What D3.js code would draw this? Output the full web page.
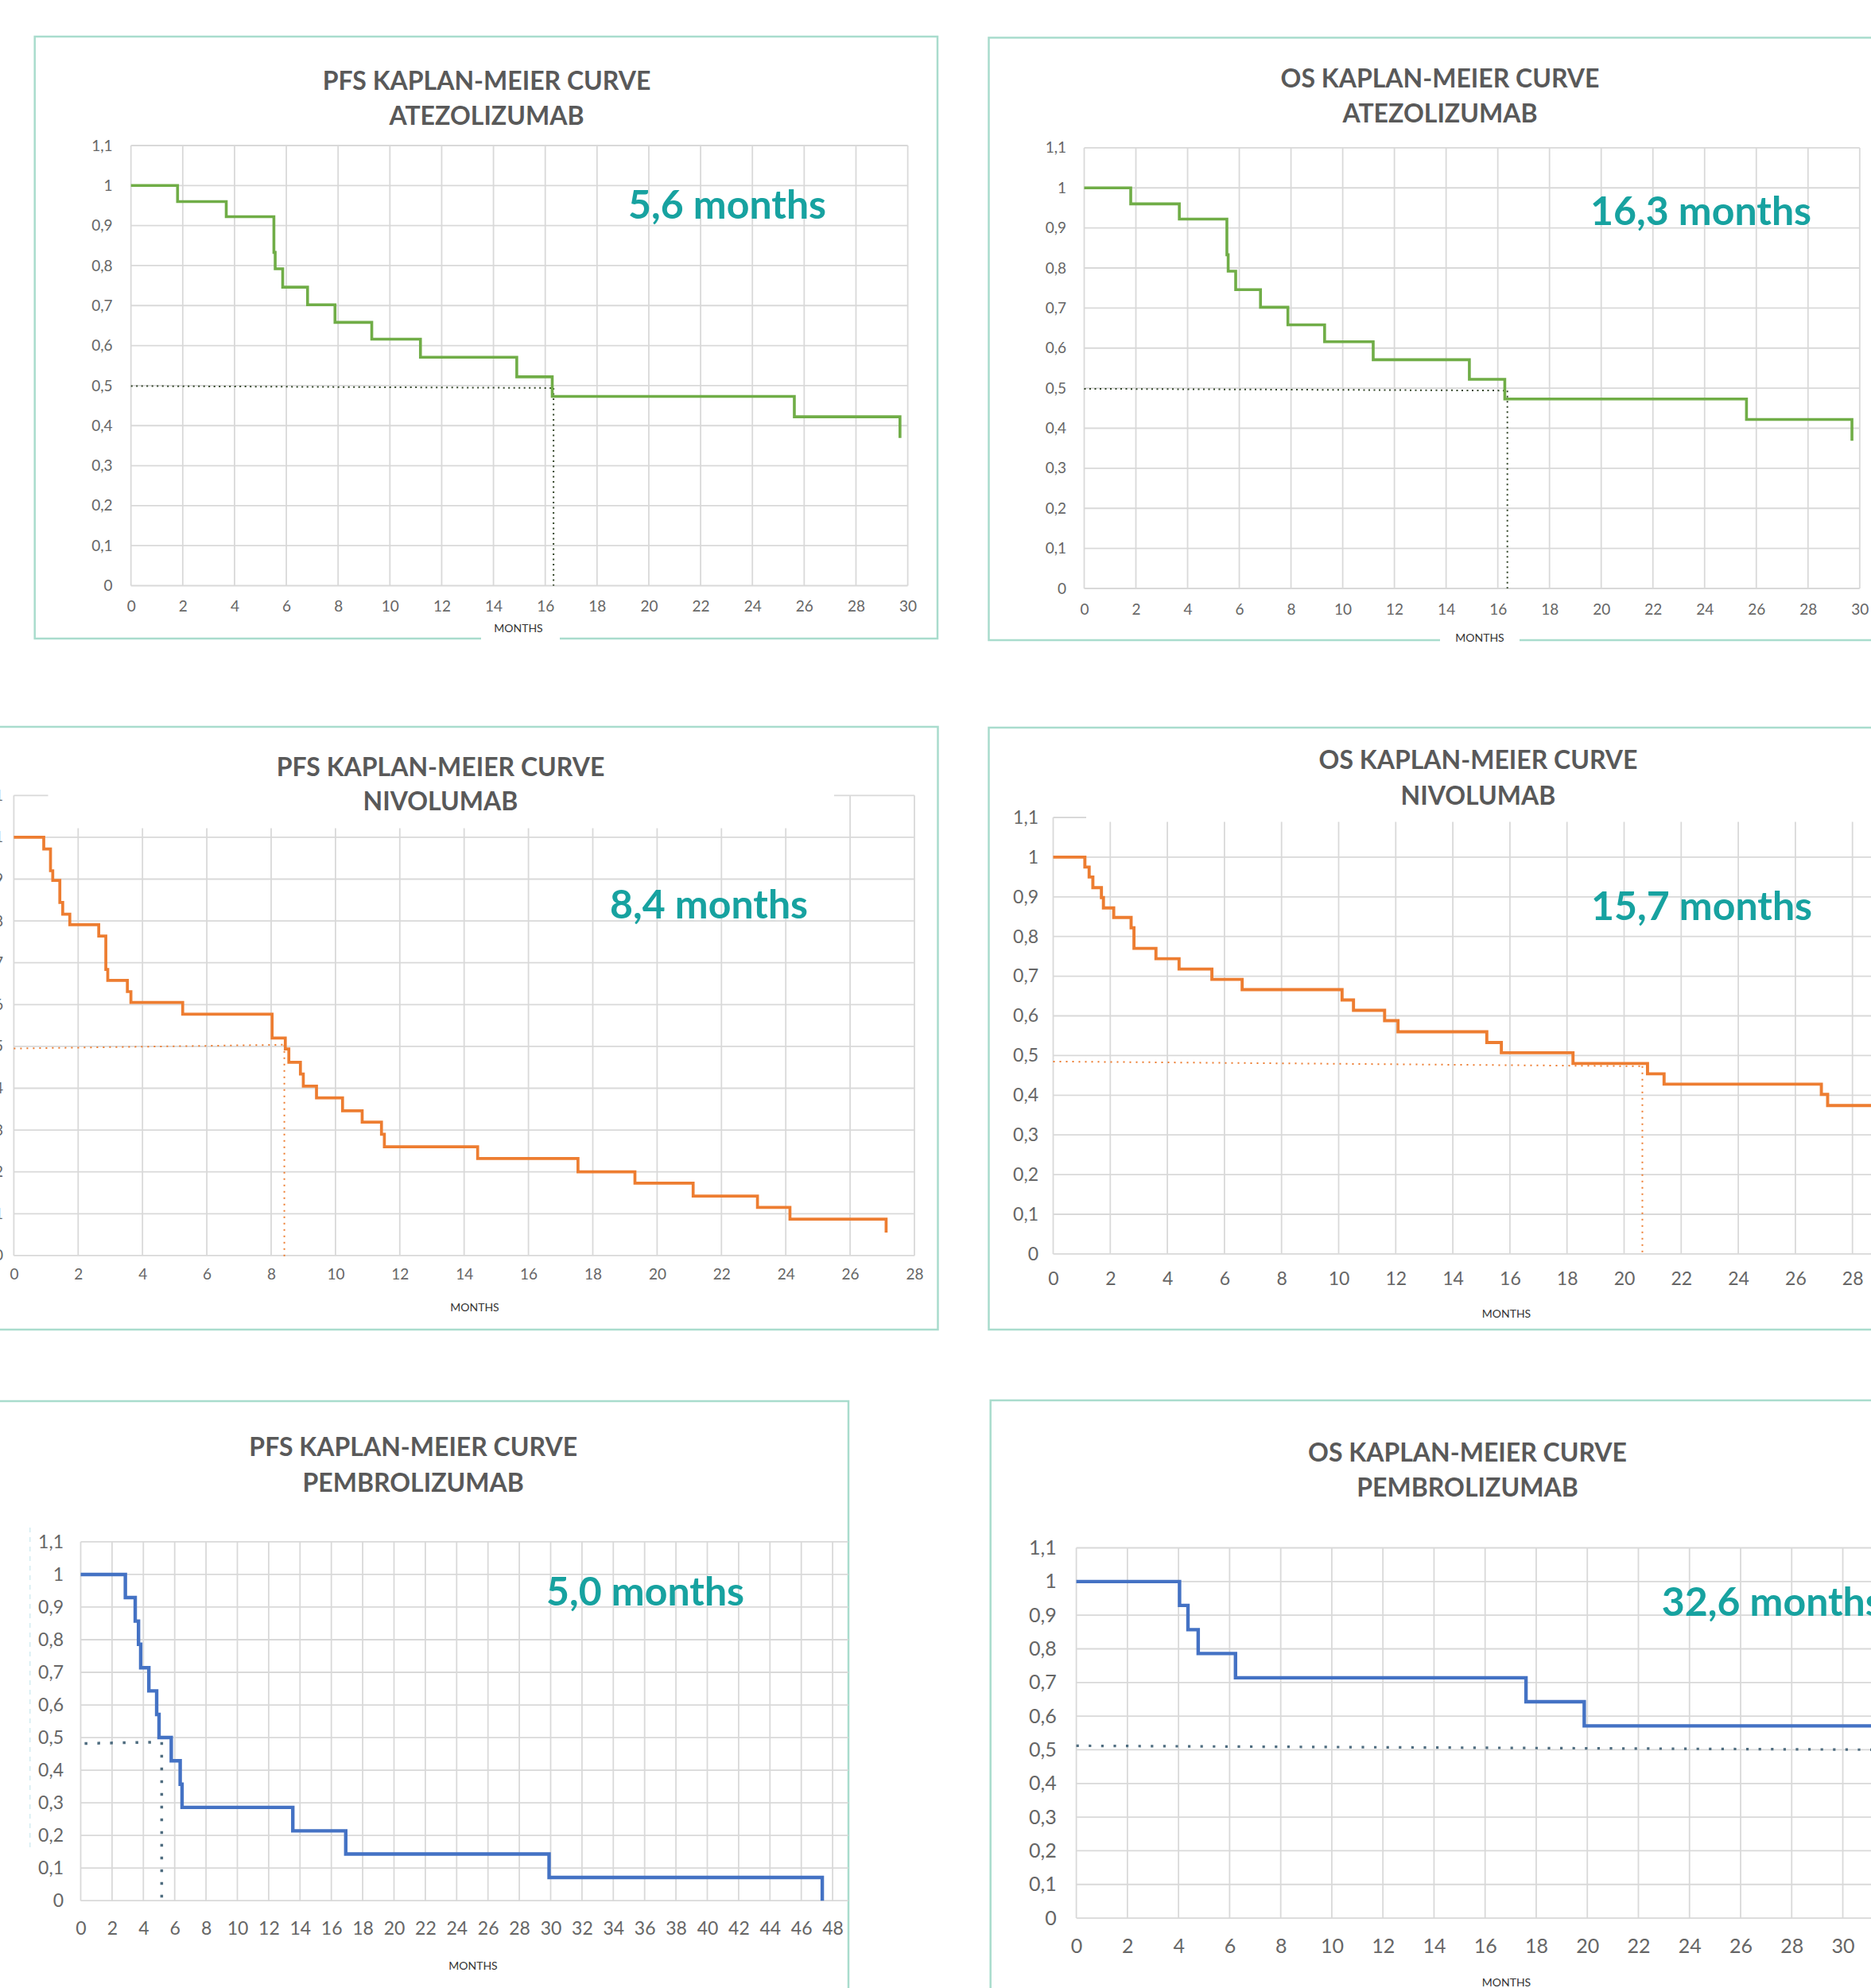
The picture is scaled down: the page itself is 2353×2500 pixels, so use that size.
<!DOCTYPE html>
<html>
<head>
<meta charset="utf-8">
<script src="https://cdn.jsdelivr.net/npm/d3@7"></script>
<style>
  body { margin: 0; background: #fff; }
  svg { display: block; }
</style>
</head>
<body>
<svg id="chart"></svg>
<script>
// ---- data (months, survival probability) ----
const atezoPfsMonths = [0, 1.8, 3.68, 5.52, 5.57, 5.86, 6.82, 7.88, 9.3, 11.18, 14.9, 16.27, 25.62, 29.7];
const atezoPfsSurv   = [1, 0.96, 0.922, 0.833, 0.792, 0.746, 0.702, 0.658, 0.616, 0.571, 0.522, 0.473, 0.422, 0.369];
const atezoOsMonths  = [0, 1.8, 3.68, 5.52, 5.57, 5.86, 6.82, 7.88, 9.3, 11.18, 14.9, 16.27, 25.62, 29.7];
const atezoOsSurv    = [1, 0.96, 0.922, 0.833, 0.792, 0.746, 0.702, 0.658, 0.616, 0.571, 0.522, 0.473, 0.422, 0.369];

const nivoPfsMonths = [0, 0.93, 1.14, 1.21, 1.43, 1.52, 1.74, 2.64, 2.86, 2.92, 3.53, 3.64, 5.25, 8.03, 8.44, 8.55, 8.91, 9.0, 9.41, 10.22, 10.83, 11.43, 11.52, 14.42, 17.54, 19.31, 21.12, 23.12, 24.13, 27.12];
const nivoPfsSurv   = [1, 0.972, 0.92, 0.897, 0.844, 0.816, 0.791, 0.764, 0.684, 0.658, 0.631, 0.605, 0.577, 0.52, 0.494, 0.462, 0.434, 0.405, 0.377, 0.346, 0.319, 0.29, 0.26, 0.232, 0.2, 0.173, 0.142, 0.115, 0.087, 0.055];
const nivoOsMonths  = [0, 1.11, 1.26, 1.39, 1.69, 1.76, 2.12, 2.73, 2.83, 3.6, 4.41, 5.56, 6.62, 10.12, 10.52, 11.61, 12.08, 15.19, 15.7, 18.21, 20.82, 21.4, 26.91, 27.13, 28.8];
const nivoOsSurv    = [1, 0.975, 0.95, 0.923, 0.898, 0.872, 0.848, 0.822, 0.77, 0.744, 0.718, 0.692, 0.666, 0.64, 0.614, 0.588, 0.56, 0.533, 0.507, 0.48, 0.454, 0.428, 0.402, 0.374, 0.374];

const pembroPfsMonths = [0, 2.85, 3.48, 3.69, 3.83, 4.35, 4.85, 5.0, 5.78, 6.35, 6.47, 13.54, 16.92, 29.9, 47.34];
const pembroPfsSurv   = [1, 0.929, 0.857, 0.786, 0.714, 0.643, 0.571, 0.5, 0.429, 0.357, 0.286, 0.214, 0.143, 0.071, 0];
const pembroOsMonths  = [0, 4.04, 4.37, 4.77, 6.23, 17.6, 19.88, 31.3];
const pembroOsSurv    = [1, 0.929, 0.857, 0.786, 0.714, 0.643, 0.571, 0.571];

// median guide lines (dotted): [month, survival]
const atezoPfsMedianH = [[0, 0.499], [16.27, 0.494]];
const atezoPfsMedianV = [[16.32, 0.494], [16.32, 0]];
const atezoOsMedianH  = [[0, 0.4985], [16.3, 0.494]];
const atezoOsMedianV  = [[16.37, 0.494], [16.37, 0]];
const nivoPfsMedianH  = [[0, 0.495], [8.36, 0.504]];
const nivoPfsMedianV  = [[8.41, 0.504], [8.41, -0.012]];
const nivoOsMedianH   = [[0, 0.485], [20.68, 0.473]];
const nivoOsMedianV   = [[20.64, 0.473], [20.64, 0]];
const pembroPfsMedianH = [[0.25, 0.482], [5.1, 0.486]];
const pembroPfsMedianV = [[5.17, 0.486], [5.17, 0]];
const pembroOsMedianH  = [[0, 0.512], [32, 0.5]];

const titleLines = [
  ["PFS KAPLAN-MEIER CURVE", "ATEZOLIZUMAB"],
  ["OS KAPLAN-MEIER CURVE", "ATEZOLIZUMAB"],
  ["PFS KAPLAN-MEIER CURVE", "NIVOLUMAB"],
  ["OS KAPLAN-MEIER CURVE", "NIVOLUMAB"],
  ["PFS KAPLAN-MEIER CURVE", "PEMBROLIZUMAB"],
  ["OS KAPLAN-MEIER CURVE", "PEMBROLIZUMAB"]
];
const medianLabels = ["5,6 months", "16,3 months", "8,4 months", "15,7 months", "5,0 months", "32,6 months"];
const yTicks = d3.range(0, 12).map(i => i / 10);
const xAxisLabel = "MONTHS";

// ---- layout (pixels) ----
const W = 2353, H = 2500;
const green = "#70ad47", orange = "#ed7d31", blue = "#4472c4";

const panels = [
  { months: atezoPfsMonths, surv: atezoPfsSurv, medH: atezoPfsMedianH, medV: atezoPfsMedianV,
    color: green, width: 3.6, dotColor: "#34472a", dotW: 2, dash: "2 4.5",
    frame: [43.7, 46, 1179, 803], monthsGap: [605, 704],
    xMax: 30, xTickMax: 30, xr: [164.7, 1141.6], yr: [736.5, 183],
    yLabX: 141.5, xLabY: 762, tickFs: 19,
    titleX: 612, titleY: [112.7, 156.9], ann: [790, 275], monthsPos: [652, 795] },
  { months: atezoOsMonths, surv: atezoOsSurv, medH: atezoOsMedianH, medV: atezoOsMedianV,
    color: green, width: 3.6, dotColor: "#34472a", dotW: 2, dash: "2 4.5",
    frame: [1243.5, 47.4, 2400, 805], monthsGap: [1811, 1911],
    xMax: 30, xTickMax: 30, xr: [1363.5, 2338.8], yr: [740, 185.9],
    yLabX: 1341, xLabY: 766, tickFs: 19,
    titleX: 1811, titleY: [110.2, 154], ann: [2000, 283], monthsPos: [1861, 807] },
  { months: nivoPfsMonths, surv: nivoPfsSurv, medH: nivoPfsMedianH, medV: nivoPfsMedianV,
    color: orange, width: 3.7, dotColor: orange, dotW: 2, dash: "2 6",
    frame: [-10, 914, 1179.5, 1672],
    xMax: 28, xTickMax: 28, xr: [17.4, 1150], yr: [1578.9, 1000.3],
    yLabX: 4, xLabY: 1602, tickFs: 19, mask: [60.5, 985, 988.5, 56.5],
    titleX: 554, titleY: [976.2, 1019.4], ann: [767, 1154.5], monthsPos: [597, 1649] },
  { months: nivoOsMonths, surv: nivoOsSurv, medH: nivoOsMedianH, medV: nivoOsMedianV,
    color: orange, width: 3.9, dotColor: orange, dotW: 2, dash: "2 6",
    frame: [1243.5, 915, 2400, 1672],
    xMax: 30, xTickMax: 30, xr: [1324.5, 2401.5], yr: [1576.9, 1028],
    yLabX: 1306, xLabY: 1608, tickFs: 23, mask: [1366, 1015, 1000, 18.5],
    titleX: 1859, titleY: [967.4, 1012], ann: [2001, 1156.5], monthsPos: [1894.5, 1657] },
  { months: pembroPfsMonths, surv: pembroPfsSurv, medH: pembroPfsMedianH, medV: pembroPfsMedianV,
    color: blue, width: 4.4, dotColor: "#4f6d80", dotW: 3.5, dash: "3.5 12.5",
    frame: [-10, 1762, 1067, 2600], faint: [37.7, 1921, 2325],
    xMax: 49, xTickMax: 48, xr: [101.5, 1066.8], yr: [2390.2, 1938.9],
    yLabX: 80, xLabY: 2425, tickFs: 23,
    titleX: 519.7, titleY: [1831, 1876.2], ann: [687, 2018.7], monthsPos: [595, 2477] },
  { months: pembroOsMonths, surv: pembroOsSurv, medH: pembroOsMedianH, medV: null,
    color: blue, width: 4.4, dotColor: "#4f6d80", dotW: 3.2, dash: "3.2 12.4",
    frame: [1245.7, 1761, 2400, 2600],
    xMax: 32, xTickMax: 32, xr: [1353.6, 2381.8], yr: [2412.1, 1946.5],
    yLabX: 1328.7, xLabY: 2447, tickFs: 25,
    titleX: 1845.5, titleY: [1838, 1882], ann: [2089.7, 2032], monthsPos: [1894.5, 2498] }
];

const svg = d3.select("#chart").attr("width", W).attr("height", H);
svg.append("rect").attr("width", W).attr("height", H).attr("fill", "#fff");

const fmt = v => String(Math.round(v * 10) / 10).replace(".", ",");
const font = "Lato, 'Open Sans', sans-serif";

panels.forEach((p, i) => {
  const g = svg.append("g");
  const x = d3.scaleLinear().domain([0, p.xMax]).range(p.xr);
  const y = d3.scaleLinear().domain([0, 1.1]).range(p.yr);
  const xTicks = d3.range(0, p.xTickMax + 0.001, 2);

  // frame
  const [fx0, fy0, fx1, fy1] = p.frame;
  g.append("rect")
    .attr("x", fx0).attr("y", fy0)
    .attr("width", fx1 - fx0).attr("height", fy1 - fy0)
    .attr("fill", "none").attr("stroke", "#a9dccd").attr("stroke-width", 2.5);

  if (p.faint) {
    g.append("line")
      .attr("x1", p.faint[0]).attr("x2", p.faint[0])
      .attr("y1", p.faint[1]).attr("y2", p.faint[2])
      .attr("stroke", "#d3ecf1").attr("stroke-width", 1.5).attr("stroke-dasharray", "6 6");
  }

  // gridlines
  const grid = g.append("g").attr("stroke", "#d9d9d9").attr("stroke-width", 1.8);
  grid.selectAll(".h").data(yTicks).join("line")
    .attr("x1", x(0)).attr("x2", x(p.xMax))
    .attr("y1", d => y(d)).attr("y2", d => y(d));
  grid.selectAll(".v").data(xTicks).join("line")
    .attr("x1", d => x(d)).attr("x2", d => x(d))
    .attr("y1", y(0)).attr("y2", y(1.1));

  // white box behind the title that hides the top of the grid
  if (p.mask) {
    g.append("rect").attr("x", p.mask[0]).attr("y", p.mask[1])
      .attr("width", p.mask[2]).attr("height", p.mask[3]).attr("fill", "#fff");
  }

  // axes (labels only)
  const yAxis = g.append("g")
    .attr("transform", `translate(${p.yLabX},0)`)
    .call(d3.axisLeft(y).tickValues(yTicks).tickFormat(fmt).tickSize(0).tickPadding(0));
  const xAxis = g.append("g")
    .attr("transform", `translate(0,${p.xLabY - p.tickFs * 0.36})`)
    .call(d3.axisBottom(x).tickValues(xTicks).tickFormat(d3.format("d")).tickSize(0).tickPadding(0));
  [yAxis, xAxis].forEach(a => {
    a.select(".domain").remove();
    a.selectAll("text")
      .attr("fill", "#666")
      .style("font-family", font)
      .style("font-size", p.tickFs + "px");
  });

  // median guides
  const line = d3.line().x(d => x(d[0])).y(d => y(d[1]));
  [p.medH, p.medV].filter(Boolean).forEach(seg => {
    g.append("path").attr("d", line(seg))
      .attr("fill", "none").attr("stroke", p.dotColor)
      .attr("stroke-width", p.dotW).attr("stroke-dasharray", p.dash);
  });

  // Kaplan-Meier step curve
  const pts = p.months.map((m, k) => [m, p.surv[k]]);
  g.append("path")
    .attr("d", d3.line().x(d => x(d[0])).y(d => y(d[1])).curve(d3.curveStepAfter)(pts))
    .attr("fill", "none").attr("stroke", p.color)
    .attr("stroke-width", p.width).attr("stroke-linejoin", "miter");

  // title
  titleLines[i].forEach((t, k) => {
    g.append("text").text(t)
      .attr("x", p.titleX).attr("y", p.titleY[k])
      .attr("text-anchor", "middle")
      .attr("fill", "#595959")
      .style("font-family", font).style("font-weight", 700).style("font-size", "32px");
  });

  // median annotation
  g.append("text").text(medianLabels[i])
    .attr("x", p.ann[0]).attr("y", p.ann[1])
    .attr("fill", "#17a2a0")
    .style("font-family", font).style("font-weight", 700).style("font-size", "50px");

  // axis title
  if (p.monthsGap) {
    g.append("rect").attr("x", p.monthsGap[0]).attr("y", p.frame[3] - 4)
      .attr("width", p.monthsGap[1] - p.monthsGap[0]).attr("height", 8).attr("fill", "#fff");
  }
  g.append("text").text(xAxisLabel)
    .attr("x", p.monthsPos[0]).attr("y", p.monthsPos[1])
    .attr("text-anchor", "middle").attr("fill", "#333")
    .style("font-family", font).style("font-size", "14px");
});
</script>
</body>
</html>
